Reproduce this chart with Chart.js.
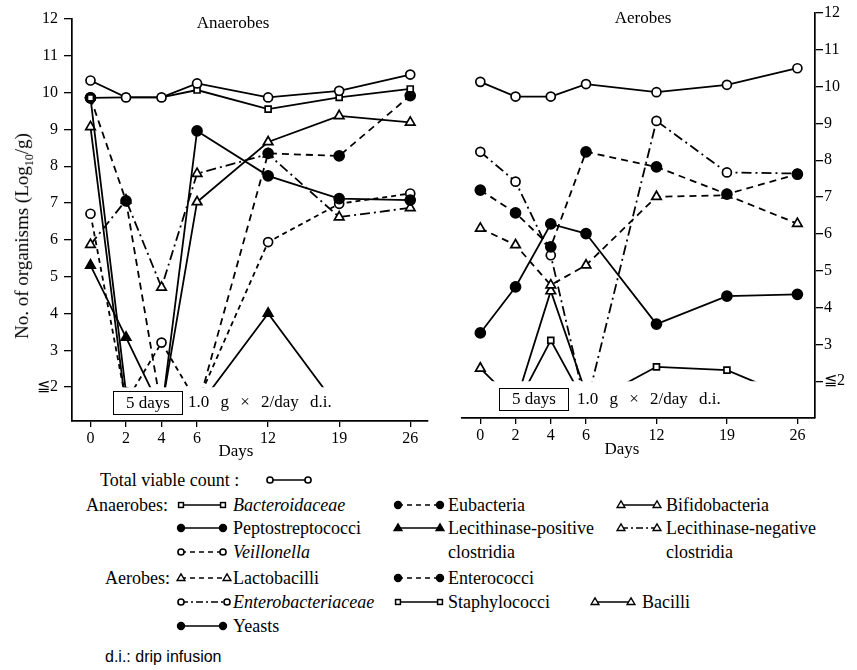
<!DOCTYPE html>
<html>
<head>
<meta charset="utf-8">
<script src="https://cdn.jsdelivr.net/npm/chart.js@4.4.1/dist/chart.umd.min.js"></script>
<style>
  html, body { margin: 0; padding: 0; background: #fff; }
  body { width: 857px; height: 670px; position: relative; overflow: hidden;
         font-family: "Liberation Serif", "Times New Roman", serif; color: #000; }
  .abs { position: absolute; white-space: nowrap; }
  canvas { position: absolute; }
  .box { position: absolute; border: 1.5px solid #000; box-sizing: border-box;
         font-size: 17px; text-align: center; }
  .lg { position: absolute; white-space: nowrap; font-size: 18px; line-height: 22px; }
  .lg i { font-style: italic; }
</style>
</head>
<body>
<canvas id="cL" width="440" height="465" style="left:0;top:0"></canvas>
<canvas id="cR" width="417" height="465" style="left:440px;top:0"></canvas>
<div id="overlay"></div>
<div id="legend"></div>

<script>
// Sampling days and tick values
const days = [0, 2, 4, 6, 12, 19, 26];
const yTicks = [2, 3, 4, 5, 6, 7, 8, 9, 10, 11, 12];
const detectionLimit = 2;   // counts at or below this are drawn as "≦2"

// Anaerobes (log10 organisms / g); values under the limit run toward the floor
const anaTotal          = [10.33, 9.87, 9.87, 10.25, 9.87, 10.05, 10.49];
const bacteroidaceae    = [9.86, 9.87, 9.87, 10.07, 9.55, 9.87, 10.10];
const peptostreptococci = [9.86, 1.85, 1.30, 8.96, 7.74, 7.12, 7.08];
const veillonella       = [6.71, 1.60, 3.21, 1.58, 5.94, 6.98, 7.26];
const eubacteria        = [9.86, 7.06, 1.38, 1.40, 8.35, 8.28, 9.92];
const lecPositive       = [5.31, 3.35, 1.36, 1.42, 4.00, 1.40, 1.40];
const bifidobacteria    = [9.07, 1.43, 1.40, 7.03, 8.66, 9.37, 9.19];
const lecNegative       = [5.87, 7.08, 4.71, 7.80, 8.33, 6.62, 6.87];

// Aerobes
const aeroTotal          = [10.13, 9.73, 9.73, 10.07, 9.85, 10.05, 10.50];
const lactobacilli       = [6.15, 5.70, 4.61, 5.15, 7.01, 7.05, 6.28];
const enterococci        = [7.19, 6.57, 5.65, 8.23, 7.82, 7.08, 7.62];
const enterobacteriaceae = [8.23, 7.42, 5.42, 1.30, 9.07, 7.67, 7.64];
const staphylococci      = [1.30, 1.29, 3.11, 1.36, 2.39, 2.30, 1.50];
const bacilli            = [2.35, 1.40, 4.45, 1.67, 1.40, 1.40, 1.40];
const yeasts             = [3.31, 4.56, 6.27, 6.01, 3.55, 4.31, 4.36];

// Marker / line styles
const DASH = { solid: [], dashed: [7, 5], short: [5, 4], dashdot: [10, 4, 2, 4] };
const STYLE = {
  openCircleSolid:   { point: 'circle',   fill: '#fff', r: 4.5, dash: DASH.solid },
  openSquareSolid:   { point: 'rect',     fill: '#fff', r: 4.2, dash: DASH.solid },
  filledCircleSolid: { point: 'circle',   fill: '#000', r: 5,   dash: DASH.solid },
  filledCircleDash:  { point: 'circle',   fill: '#000', r: 5,   dash: DASH.dashed },
  openCircleDash:    { point: 'circle',   fill: '#fff', r: 4.5, dash: DASH.short },
  openCircleDashDot: { point: 'circle',   fill: '#fff', r: 4.5, dash: DASH.dashdot },
  filledTriSolid:    { point: 'triangle', fill: '#000', r: 5.5, dash: DASH.solid },
  openTriSolid:      { point: 'triangle', fill: '#fff', r: 5.5, dash: DASH.solid },
  openTriDash:       { point: 'triangle', fill: '#fff', r: 5.5, dash: DASH.dashed },
  openTriDashDot:    { point: 'triangle', fill: '#fff', r: 5.5, dash: DASH.dashdot }
};

// The day axis is compressed: the first four samples are one slot apart, later ones two
function slot(i) { return i < 4 ? i : 3 + 2 * (i - 3); }

function dataset(label, values, style) {
  const s = STYLE[style];
  return {
    label,
    data: values.map((v, i) => ({ x: slot(i), y: v })),
    borderColor: '#000',
    borderWidth: 1.8,
    borderDash: s.dash,
    pointStyle: s.point,
    pointRadius: s.r,
    pointHoverRadius: s.r,
    pointBorderWidth: 1.7,
    pointBackgroundColor: s.fill,
    pointBorderColor: '#000',
    fill: false,
    tension: 0
  };
}

// Hide everything below the detection limit
const floorClip = {
  id: 'floorClip',
  beforeDatasetsDraw(chart) {
    const { ctx, chartArea: a, scales } = chart;
    const yFloor = scales.y.getPixelForValue(detectionLimit);
    ctx.save();
    ctx.beginPath();
    ctx.rect(a.left - 20, a.top - 20, a.right - a.left + 40, yFloor - a.top + 20);
    ctx.clip();
  },
  afterDatasetsDraw(chart) { chart.ctx.restore(); }
};

Chart.defaults.font.family = '"Liberation Serif", "Times New Roman", serif';
Chart.defaults.font.size = 16;
Chart.defaults.color = '#000';

function panel(canvasId, datasets, o) {
  return new Chart(document.getElementById(canvasId), {
    type: 'line',
    data: { datasets },
    plugins: [floorClip],
    options: {
      responsive: false,
      animation: false,
      events: [],
      layout: { padding: o.padding },
      plugins: { legend: { display: false }, tooltip: { enabled: false } },
      scales: {
        x: {
          type: 'linear',
          min: -0.52, max: 9.5,
          afterBuildTicks: s => { s.ticks = days.map((d, i) => ({ value: slot(i) })); },
          afterFit: s => { s.height = o.xHeight; },
          ticks: { autoSkip: false, maxRotation: 0, padding: 2,
                   font: { size: 16 }, callback: (v, i) => String(days[i]) },
          grid: { drawOnChartArea: false, drawTicks: true, tickLength: 6, color: '#000', lineWidth: 1.3 },
          border: { display: true, color: '#000', width: 1.7 }
        },
        y: {
          type: 'linear',
          position: o.yPos,
          min: o.yMin, max: 12,
          afterBuildTicks: s => { s.ticks = yTicks.map(v => ({ value: v })); },
          afterFit: s => { s.width = o.yWidth; },
          ticks: { autoSkip: false, padding: o.yPad, font: { size: 16 },
                   callback: v => (v === detectionLimit ? '≦2' : String(v)) },
          grid: { drawOnChartArea: false, drawTicks: true, tickLength: 8, color: '#000', lineWidth: 1.3 },
          border: { display: true, color: '#000', width: 1.7 }
        }
      }
    }
  });
}

panel('cL', [
  dataset('Total viable count', anaTotal, 'openCircleSolid'),
  dataset('Bacteroidaceae', bacteroidaceae, 'openSquareSolid'),
  dataset('Peptostreptococci', peptostreptococci, 'filledCircleSolid'),
  dataset('Eubacteria', eubacteria, 'filledCircleDash'),
  dataset('Veillonella', veillonella, 'openCircleDash'),
  dataset('Lecithinase-positive clostridia', lecPositive, 'filledTriSolid'),
  dataset('Bifidobacteria', bifidobacteria, 'openTriSolid'),
  dataset('Lecithinase-negative clostridia', lecNegative, 'openTriDashDot')
], { padding: { left: 0, right: 12, top: 19, bottom: 0 }, xHeight: 44,
     yPos: 'left', yWidth: 72, yPad: 6, yMin: 1.08 });

panel('cR', [
  dataset('Total viable count', aeroTotal, 'openCircleSolid'),
  dataset('Enterococci', enterococci, 'filledCircleDash'),
  dataset('Enterobacteriaceae', enterobacteriaceae, 'openCircleDashDot'),
  dataset('Lactobacilli', lactobacilli, 'openTriDash'),
  dataset('Yeasts', yeasts, 'filledCircleSolid'),
  dataset('Staphylococci', staphylococci, 'openSquareSolid'),
  dataset('Bacilli', bacilli, 'openTriSolid')
], { padding: { left: 22, right: 0, top: 13, bottom: 0 }, xHeight: 47,
     yPos: 'right', yWidth: 42, yPad: 1, yMin: 1.0 });

// Panel titles, axis titles and dosing notes
const overlay = document.getElementById('overlay');
function text(html, x, y, css) {
  const d = document.createElement('div');
  d.className = 'abs';
  d.style.cssText = `left:${x}px;top:${y}px;transform:translate(-50%,-50%);` + (css || '');
  d.innerHTML = html;
  overlay.appendChild(d);
  return d;
}
text('Anaerobes', 233, 23, 'font-size:17px');
text('Aerobes', 643, 18, 'font-size:17px');
text('Days', 236, 451, 'font-size:17px');
text('Days', 622, 449, 'font-size:17px');
text('No. of organisms (Log<sub style="font-size:12px">10</sub>/g)', 24, 236,
     'font-size:19px;transform:translate(-50%,-50%) rotate(-90deg)');

function dosing(x, y, w, h, tx, ty) {
  const b = document.createElement('div');
  b.className = 'box';
  b.style.cssText += `left:${x}px;top:${y}px;width:${w}px;height:${h}px;line-height:${h - 3}px`;
  b.textContent = '5 days';
  overlay.appendChild(b);
  const t = document.createElement('div');
  t.className = 'abs';
  t.style.cssText = `left:${tx}px;top:${ty - 11}px;font-size:17px;line-height:22px;word-spacing:7px`;
  t.textContent = '1.0 g × 2/day d.i.';
  overlay.appendChild(t);
}
dosing(113, 391, 70, 24, 188, 402);
dosing(499, 388, 70, 23, 577, 399);

// Legend
const legend = document.getElementById('legend');
function symbol(style, x, y, w) {
  const s = STYLE[style];
  const h = 16, cy = 8, x1 = 5, x2 = w - 5, r = s.r * 0.68;
  const dash = style === 'openCircleDash' || style === 'filledCircleDash' || style === 'openTriDash'
    ? '5,4' : (s.dash.length ? '7,3,2,3' : '');
  function mark(cx) {
    if (s.point === 'circle') return `<circle cx="${cx}" cy="${cy}" r="${r}" fill="${s.fill}" stroke="#000" stroke-width="1.6"/>`;
    if (s.point === 'rect') { const a = r * 0.85; return `<rect x="${cx - a}" y="${cy - a}" width="${2 * a}" height="${2 * a}" fill="${s.fill}" stroke="#000" stroke-width="1.5"/>`; }
    const t = r * 1.1;
    return `<polygon points="${cx},${cy - t} ${cx + t * 0.95},${cy + t * 0.6} ${cx - t * 0.95},${cy + t * 0.6}" fill="${s.fill}" stroke="#000" stroke-width="1.4"/>`;
  }
  const svg = `<svg width="${w}" height="${h}" style="position:absolute;left:${x}px;top:${y - cy}px">` +
    `<line x1="${x1}" y1="${cy}" x2="${x2}" y2="${cy}" stroke="#000" stroke-width="1.7"${dash ? ` stroke-dasharray="${dash}"` : ''}/>` +
    mark(x1) + mark(x2) + `</svg>`;
  legend.insertAdjacentHTML('beforeend', svg);
}
function label(html, x, y, css) {
  legend.insertAdjacentHTML('beforeend',
    `<div class="lg" style="left:${x}px;top:${y - 11}px;${css || ''}">${html}</div>`);
}

label('Total viable count :', 100, 480);
symbol('openCircleSolid', 265, 480, 48);

label('Anaerobes:', 86, 505);
symbol('openSquareSolid', 176, 505, 52); label('<i>Bacteroidaceae</i>', 233, 505);
symbol('filledCircleDash', 393, 505, 52); label('Eubacteria', 448, 505);
symbol('openTriSolid', 616, 505, 46); label('Bifidobacteria', 666, 505);

symbol('filledCircleSolid', 176, 528, 52); label('Peptostreptococci', 233, 528);
symbol('filledTriSolid', 393, 528, 52); label('Lecithinase-positive', 448, 528);
symbol('openTriDashDot', 616, 528, 46); label('Lecithinase-negative', 666, 528);

symbol('openCircleDash', 176, 552, 52); label('<i>Veillonella</i>', 233, 552);
label('clostridia', 448, 552);
label('clostridia', 666, 552);

label('Aerobes:', 105, 578);
symbol('openTriDash', 176, 578, 56); label('Lactobacilli', 233, 578);
symbol('filledCircleDash', 393, 578, 52); label('Enterococci', 448, 578);

symbol('openCircleDashDot', 176, 602, 56); label('<i>Enterobacteriaceae</i>', 233, 602);
symbol('openSquareSolid', 393, 602, 52); label('Staphylococci', 448, 602);
symbol('openTriSolid', 590, 602, 46); label('Bacilli', 642, 602);

symbol('filledCircleSolid', 176, 626, 52); label('Yeasts', 233, 626);

label('d.i.: drip infusion', 105, 657, 'font-family:&quot;Liberation Sans Narrow&quot;,&quot;Liberation Sans&quot;,sans-serif;font-size:16px');
</script>
</body>
</html>
